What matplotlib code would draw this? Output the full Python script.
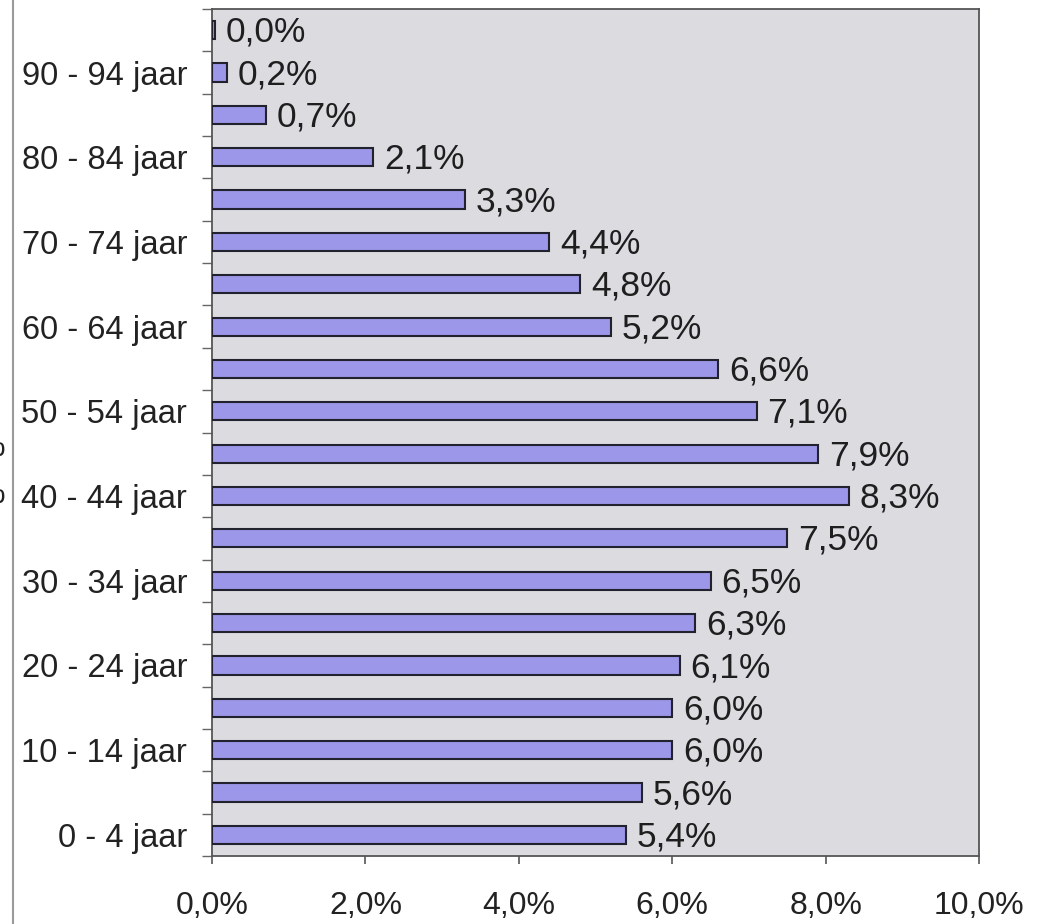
import numpy as np
import matplotlib
matplotlib.use("Agg")
import matplotlib.pyplot as plt
from matplotlib.lines import Line2D
from matplotlib.ticker import FixedLocator, FuncFormatter

# leeftijdsgroepen, van onder naar boven
groups = ['0 - 4 jaar', '5 - 9 jaar', '10 - 14 jaar', '15 - 19 jaar', '20 - 24 jaar',
          '25 - 29 jaar', '30 - 34 jaar', '35 - 39 jaar', '40 - 44 jaar', '45 - 49 jaar',
          '50 - 54 jaar', '55 - 59 jaar', '60 - 64 jaar', '65 - 69 jaar', '70 - 74 jaar',
          '75 - 79 jaar', '80 - 84 jaar', '85 - 89 jaar', '90 - 94 jaar', '95 - 99 jaar']
percent = [5.4, 5.6, 6.0, 6.0, 6.1, 6.3, 6.5, 7.5, 8.3, 7.9,
           7.1, 6.6, 5.2, 4.8, 4.4, 3.3, 2.1, 0.7, 0.2, 0.04]
xticks = [0, 2, 4, 6, 8, 10]

plt.rcParams['font.family'] = ['Liberation Sans', 'DejaVu Sans']

fig = plt.figure(figsize=(10.52, 9.24), dpi=100)
ax = fig.add_axes([212/1052., 1-856/924., (979-212)/1052., (856-9)/924.])
ax.set_facecolor('#dcdbe0')

y = np.arange(len(groups))
ax.barh(y, percent, height=0.43, color='#9c97e8', edgecolor='#22222e', linewidth=1.5, zorder=3)

for yi, v in zip(y, percent):
	ax.text(v + 0.14, yi - 0.05, ('%.1f%%' % v).replace('.', ','), va='center', ha='left',
	        fontsize=25.5, color='#1e1e1e', zorder=4)

ax.set_xlim(0, 10)
ax.set_ylim(-0.5, len(groups) - 0.5)

ax.xaxis.set_major_locator(FixedLocator(xticks))
ax.xaxis.set_major_formatter(FuncFormatter(lambda x, pos: ('%.1f%%' % x).replace('.', ',')))
ax.tick_params(axis='x', direction='out', length=6, width=1.2, color='#555555',
               labelsize=23, labelcolor='#222222', pad=19)

# streepjes tussen de groepen, labels om de andere groep
ax.yaxis.set_major_locator(FixedLocator(np.arange(-0.5, len(groups), 1.0)))
ax.yaxis.set_major_formatter(FuncFormatter(lambda v, pos: ''))
ax.yaxis.set_minor_locator(FixedLocator(y[::2]))
ax.set_yticklabels(groups[::2], minor=True)
ax.tick_params(axis='y', which='major', direction='out', length=7, width=1.0, color='#666666')
ax.tick_params(axis='y', which='minor', length=0, labelsize=23.5, labelcolor='#222222', pad=18)

for s in ax.spines.values():
	s.set_color('#555555')
	s.set_linewidth(1.3)

# rand van de scan links
fig.add_artist(Line2D([12.5/1052., 12.5/1052.], [0, 1], color='#9a9a9a', linewidth=1.5))
fig.text(5/1052., 1-448/924., '%', ha='right', va='center', fontsize=23, color='#222222')
fig.text(5/1052., 1-495/924., '%', ha='right', va='center', fontsize=23, color='#222222')

plt.savefig('out.png', dpi=100)
